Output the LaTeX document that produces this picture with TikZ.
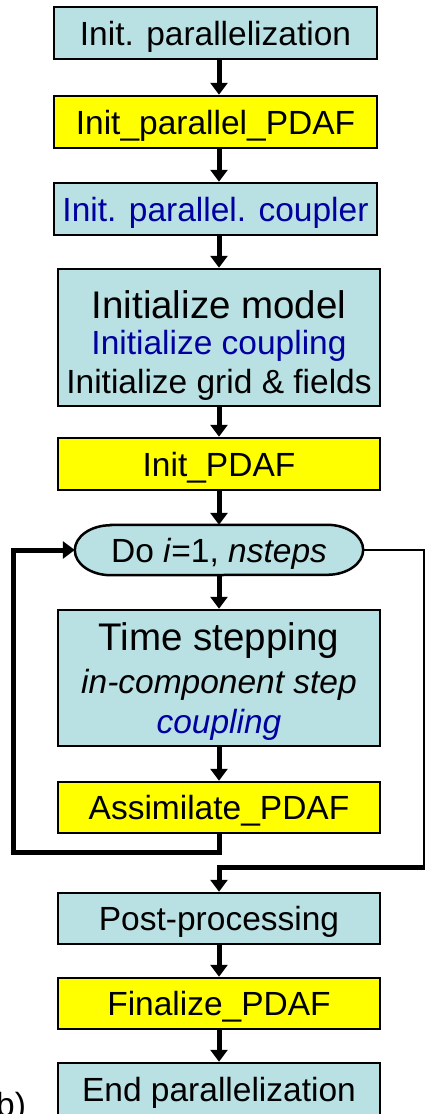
\documentclass[tikz,border=0pt]{standalone}
\usepackage{fontspec}
\setmainfont{Liberation Sans}
\usetikzlibrary{arrows.meta,calc}
\definecolor{boxblue}{RGB}{185,224,227}
\definecolor{boxyellow}{RGB}{255,255,0}
\definecolor{txtblue}{RGB}{0,0,160}
\pgfdeclarelayer{background}
\pgfsetlayers{background,main}
\tikzset{
  x=1pt,y=1pt,
  base/.style={draw=black,line width=2.5pt,minimum width=323pt,inner sep=0pt,
    text height=24pt,text depth=0pt,font=\fontsize{33.5}{40}\selectfont},
  bluebox/.style={base,fill=boxblue},
  yellowbox/.style={base,fill=boxyellow},
  flow/.style={line width=5pt,-{Triangle[length=12pt,width=17pt]}},
  thinline/.style={line width=2pt},
  linetxt/.style={anchor=base,inner sep=0pt,font=\fontsize{33.5}{40}\selectfont},
  bigtxt/.style={linetxt,font=\fontsize{38.5}{46}\selectfont},
}
\begin{document}
\begin{tikzpicture}
\useasboundingbox (0,0) rectangle (425,-1114);
\clip (0,0) rectangle (425,-1114);
\coordinate (axis) at (219,0);

\node[bluebox,minimum height=52pt] (n1) at (215.5,-33) {Init. parallelization};
\node[yellowbox,minimum height=52pt] (n2) at (215.5,-122) {Init\_parallel\_PDAF};
\node[bluebox,minimum height=52pt,text=txtblue] (n3) at (215.5,-209) {Init. parallel. coupler};

\node[bluebox,minimum height=137pt,minimum width=322pt] (n4) at (219,-337.5) {};
\node[bigtxt] (n4a) at (219,-318) {Initialize model};
\node[linetxt,text=txtblue] (n4b) at (219,-354) {Initialize coupling};
\node[linetxt] (n4c) at (219,-393) {Initialize grid \& fields};

\node[yellowbox,minimum height=52pt,minimum width=322pt] (n5) at (219,-464) {Init\_PDAF};

% loop header (flattened ellipse)
\node[inner sep=0pt,minimum width=288pt,minimum height=50pt,text height=24pt,text depth=0pt,
      font=\fontsize{33.5}{40}\selectfont] (loop) at (219,-550)
      {Do \textit{i}=1, \textit{nsteps}};
\begin{pgfonlayer}{background}
\draw[fill=boxblue,line width=2.5pt]
  ($(loop.north west)+(36,0)$) -- ($(loop.north east)+(-36,0)$)
  arc[start angle=90,end angle=-90,x radius=36,y radius=25]
  -- ($(loop.south west)+(36,0)$)
  arc[start angle=270,end angle=90,x radius=36,y radius=25] -- cycle;
\end{pgfonlayer}

\node[bluebox,minimum height=136pt,minimum width=322pt] (n6) at (219,-678) {};
\node[bigtxt] (n6a) at (219,-650) {Time stepping};
\node[linetxt] (n6b) at (219,-693) {\itshape in-component step};
\node[linetxt,text=txtblue] (n6c) at (219,-733) {\itshape coupling};

\node[yellowbox,minimum height=51pt,minimum width=322pt] (n7) at (219,-807.5) {Assimilate\_PDAF};
\node[bluebox,minimum height=51pt,minimum width=322pt] (n8) at (219,-918.5) {Post-processing};
\node[yellowbox,minimum height=51pt,minimum width=322pt] (n9) at (219,-1003.5) {Finalize\_PDAF};
\node[bluebox,minimum height=52pt,minimum width=322pt] (n10) at (219,-1089) {End parallelization};

\node[anchor=base west,inner sep=0pt,font=\fontsize{33.5}{40}\selectfont] (lbl) at (-4,-1116) {b)};

% straight connectors
\draw[flow] (n1.south -| axis) -- (n2.north -| axis);
\draw[flow] (n2.south -| axis) -- (n3.north -| axis);
\draw[flow] (n3.south -| axis) -- (n4.north -| axis);
\draw[flow] (n4.south -| axis) -- (n5.north -| axis);
\draw[flow] (n5.south -| axis) -- (loop.north -| axis);
\draw[flow] (loop.south -| axis) -- (n6.north -| axis);
\draw[flow] (n6.south -| axis) -- (n7.north -| axis);
\draw[flow] (n8.south -| axis) -- (n9.north -| axis);
\draw[flow] (n9.south -| axis) -- (n10.north -| axis);

% loop back
\coordinate (loopL) at (13.5,-852);
\draw[flow] (n7.south -| axis) |- (loopL) |- (loop.west);

% loop exit
\coordinate (exitTR) at (423.5,-550);
\coordinate (exitBR) at (423.5,-867);
\coordinate (exitOut) at (430,-867);
\draw[thinline] (loop.east) -- (exitTR) -- (exitBR);
\draw[flow] (exitOut) -| (n8.north -| axis);
\end{tikzpicture}
\end{document}
